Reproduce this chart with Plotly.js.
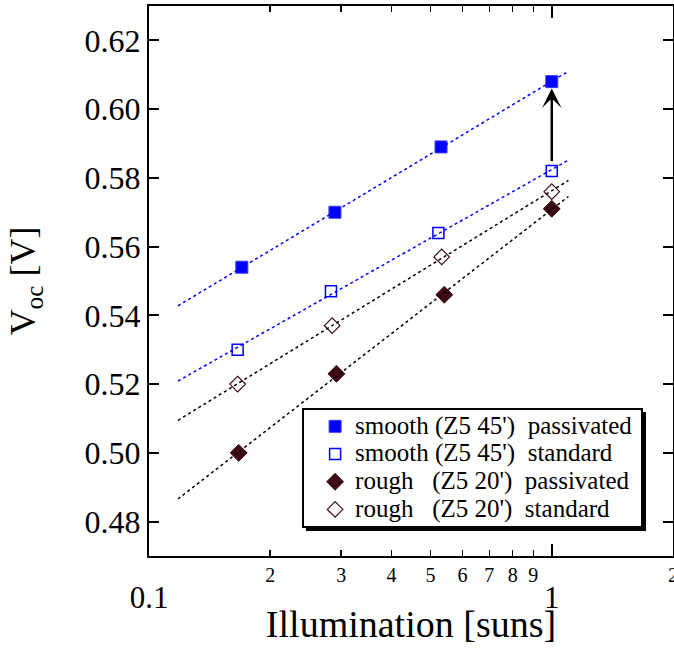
<!DOCTYPE html>
<html>
<head>
<meta charset="utf-8">
<script src="https://cdn.plot.ly/plotly-3.0.1.min.js"></script>
<style>
  html, body { margin: 0; padding: 0; background: #fff; }
  #chart { width: 674px; height: 650px; }
</style>
</head>
<body>
<div id="chart"></div>
<script>
// ---- data ----
const seriesNames = [
  "smooth (Z5 45')\u00A0 passivated",
  "smooth (Z5 45')\u00A0 standard",
  "rough\u00A0\u00A0\u00A0(Z5 20')\u00A0 passivated",
  "rough\u00A0\u00A0\u00A0(Z5 20')\u00A0 standard"
];
const smoothPassX = [0.170, 0.2895, 0.531, 1.0];
const smoothPassY = [0.554, 0.570, 0.589, 0.608];
const smoothStdX  = [0.166, 0.283, 0.523, 1.0];
const smoothStdY  = [0.530, 0.547, 0.564, 0.582];
const roughPassX  = [0.167, 0.292, 0.541, 1.0];
const roughPassY  = [0.500, 0.523, 0.546, 0.571];
const roughStdX   = [0.166, 0.285, 0.533, 1.0];
const roughStdY   = [0.520, 0.537, 0.557, 0.576];
const fitRange = [0.118, 1.1];          // extent of the dotted fit lines
const arrowFrom = 0.5845, arrowTo = 0.6060; // arrow at 1 sun
const majorTickVals = [0.1, 1];
const majorTickText = ['0.1', '1'];
const minorTickVals = [0.2, 0.3, 0.4, 0.5, 0.6, 0.7, 0.8, 0.9, 2];
const minorTickText = ['2', '3', '4', '5', '6', '7', '8', '9', '2'];
const yTickVals = [0.48, 0.50, 0.52, 0.54, 0.56, 0.58, 0.60, 0.62];

// least-squares fit of V vs log10(illumination)
function fitLine(xs, ys) {
  const lx = xs.map(v => Math.log10(v));
  const n = lx.length;
  const mx = lx.reduce((a, b) => a + b, 0) / n;
  const my = ys.reduce((a, b) => a + b, 0) / n;
  let sxx = 0, sxy = 0;
  for (let i = 0; i < n; i++) { sxx += (lx[i] - mx) ** 2; sxy += (lx[i] - mx) * (ys[i] - my); }
  const k = sxy / sxx;
  return { x: fitRange.slice(), y: fitRange.map(v => my + k * (Math.log10(v) - mx)) };
}

const BLUE = '#0000ff';
const MAROON = '#3d0a16';
const FONT = 'Liberation Serif, Times New Roman, serif';

function fitTrace(xs, ys, color) {
  const f = fitLine(xs, ys);
  return { x: f.x, y: f.y, xaxis: 'x2', yaxis: 'y', mode: 'lines', type: 'scatter', showlegend: false, hoverinfo: 'skip',
           line: { color: color, width: 1.5, dash: 'dot' } };
}
const legendName = s => '<span style="font-size:25px">' + s + '</span>';

const traces = [
  fitTrace(smoothPassX, smoothPassY, BLUE),
  fitTrace(smoothStdX, smoothStdY, BLUE),
  fitTrace(roughPassX, roughPassY, '#000000'),
  fitTrace(roughStdX, roughStdY, '#000000'),
  { x: smoothPassX, y: smoothPassY, name: legendName(seriesNames[0]), mode: 'markers', type: 'scatter',
    marker: { symbol: 'square', size: 12, color: BLUE, line: { color: '#3a3aff', width: 1 } } },
  { x: smoothStdX, y: smoothStdY, name: legendName(seriesNames[1]), mode: 'markers', type: 'scatter',
    marker: { symbol: 'square-open', size: 11, color: BLUE, line: { color: BLUE, width: 1.5 } } },
  { x: roughPassX, y: roughPassY, name: legendName(seriesNames[2]), mode: 'markers', type: 'scatter',
    marker: { symbol: 'diamond', size: 13, color: MAROON, line: { color: MAROON, width: 1 } } },
  { x: roughStdX, y: roughStdY, name: legendName(seriesNames[3]), mode: 'markers', type: 'scatter',
    marker: { symbol: 'diamond-open', size: 12, color: MAROON, line: { color: MAROON, width: 1.2 } } }
];

const xRange = [Math.log10(0.1), Math.log10(2)];

const layout = {
  width: 674, height: 650,
  margin: { l: 149, r: 1, t: 6, b: 94 },
  paper_bgcolor: '#fff', plot_bgcolor: '#fff',
  font: { family: FONT, color: '#000' },
  showlegend: true,
  xaxis: {
    type: 'log', range: xRange, showgrid: false, zeroline: false,
    showline: true, linewidth: 2, linecolor: '#000', mirror: 'ticks',
    tickmode: 'array', tickvals: majorTickVals, ticktext: majorTickText,
    ticks: 'inside', ticklen: 12, tickwidth: 2, tickcolor: '#000',
    tickfont: { size: 31, family: FONT },
    ticklabelstandoff: 13, automargin: false
  },
  xaxis2: {
    type: 'log', range: xRange, overlaying: 'x', anchor: 'y', side: 'bottom',
    showgrid: false, zeroline: false,
    showline: true, linewidth: 2, linecolor: '#000', mirror: 'ticks',
    tickmode: 'array', tickvals: minorTickVals, ticktext: minorTickText,
    ticks: 'inside', ticklen: 6, tickwidth: 1.5, tickcolor: '#000',
    tickfont: { size: 20, family: FONT },
    ticklabeloverflow: 'allow',
    automargin: 'bottom',
    title: { text: 'Illumination [suns]', font: { size: 38, family: FONT }, standoff: 25 }
  },
  yaxis: {
    range: [0.47, 0.63], showgrid: false, zeroline: false,
    showline: true, linewidth: 2, linecolor: '#000', mirror: 'ticks',
    tickmode: 'array', tickvals: yTickVals, tickformat: '.2f',
    ticks: 'inside', ticklen: 10, tickwidth: 2, tickcolor: '#000',
    tickfont: { size: 32, family: FONT },
    automargin: 'left',
    title: { text: 'V<sub>oc</sub> [V]', font: { size: 36, family: FONT }, standoff: 38 }
  },
  legend: {
    x: 0.317, y: 0.270, xanchor: 'left', yanchor: 'top',
    bgcolor: 'rgba(0,0,0,0)', borderwidth: 0,
    font: { size: 19, family: FONT, color: '#000' },
    itemwidth: 30, tracegroupgap: 0
  },
  shapes: [
    { type: 'rect', xref: 'paper', yref: 'paper', layer: 'above',
      x0: (306 - 149) / 524, x1: (646 - 149) / 524, y0: (556 - 531) / 550, y1: (556 - 412) / 550,
      fillcolor: '#000', line: { width: 0 } },
    { type: 'rect', xref: 'paper', yref: 'paper', layer: 'above',
      x0: (303 - 149) / 524, x1: (642 - 149) / 524, y0: (556 - 527) / 550, y1: (556 - 409) / 550,
      fillcolor: '#fff', line: { color: '#000', width: 2 } }
  ],
  annotations: [
    { x: 0, y: arrowTo, ax: 0, ay: arrowFrom, xref: 'x', yref: 'y', axref: 'x', ayref: 'y',
      text: '', showarrow: true, arrowhead: 3, arrowsize: 1.3, arrowwidth: 2.5, arrowcolor: '#000' }
  ]
};

Plotly.newPlot('chart', traces, layout, { displayModeBar: false, staticPlot: true });
</script>
</body>
</html>
